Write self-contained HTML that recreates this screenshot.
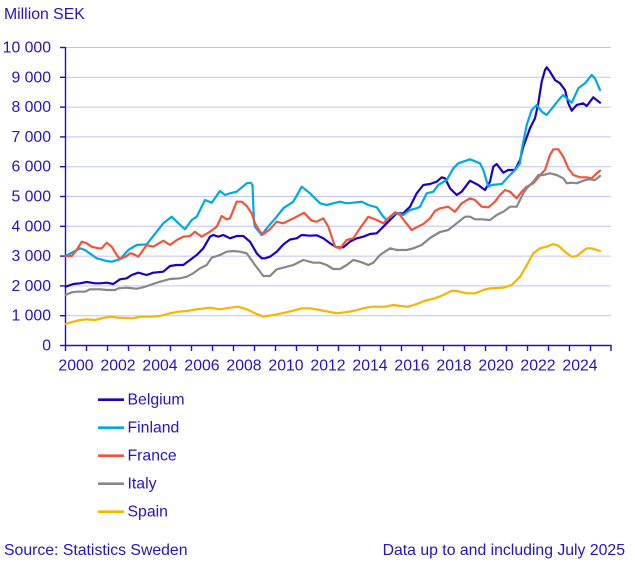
<!DOCTYPE html>
<html><head><meta charset="utf-8"><style>
html,body{margin:0;padding:0;background:#fff;}
svg{display:block;}
text{font-family:"Liberation Sans",Arial,sans-serif;fill:#2414c0;}
</style></head><body>
<svg width="635" height="562" viewBox="0 0 635 562" xmlns="http://www.w3.org/2000/svg">
<text x="4" y="19" font-size="15.8">Million SEK</text>
<g stroke="#c4c4f0" stroke-width="1">
<line x1="65.5" y1="47.5" x2="611" y2="47.5"/>
<line x1="65.5" y1="77.3" x2="611" y2="77.3"/>
<line x1="65.5" y1="107.1" x2="611" y2="107.1"/>
<line x1="65.5" y1="136.9" x2="611" y2="136.9"/>
<line x1="65.5" y1="166.7" x2="611" y2="166.7"/>
<line x1="65.5" y1="196.5" x2="611" y2="196.5"/>
<line x1="65.5" y1="226.3" x2="611" y2="226.3"/>
<line x1="65.5" y1="256.1" x2="611" y2="256.1"/>
<line x1="65.5" y1="285.9" x2="611" y2="285.9"/>
<line x1="65.5" y1="315.7" x2="611" y2="315.7"/>
</g>
<g font-size="15.8" text-anchor="end">
<text x="51" y="52.5">10 000</text>
<text x="51" y="82.3">9 000</text>
<text x="51" y="112.1">8 000</text>
<text x="51" y="141.9">7 000</text>
<text x="51" y="171.7">6 000</text>
<text x="51" y="201.5">5 000</text>
<text x="51" y="231.3">4 000</text>
<text x="51" y="261.1">3 000</text>
<text x="51" y="290.9">2 000</text>
<text x="51" y="320.7">1 000</text>
<text x="51" y="350.5">0</text>
</g>
<g stroke="#2010c0" stroke-width="1.4" fill="none">
<line x1="65.5" y1="47" x2="65.5" y2="351"/>
<line x1="65" y1="345.5" x2="611.5" y2="345.5"/>
<line x1="60" y1="47.5" x2="65.5" y2="47.5"/>
<line x1="60" y1="77.3" x2="65.5" y2="77.3"/>
<line x1="60" y1="107.1" x2="65.5" y2="107.1"/>
<line x1="60" y1="136.9" x2="65.5" y2="136.9"/>
<line x1="60" y1="166.7" x2="65.5" y2="166.7"/>
<line x1="60" y1="196.5" x2="65.5" y2="196.5"/>
<line x1="60" y1="226.3" x2="65.5" y2="226.3"/>
<line x1="60" y1="256.1" x2="65.5" y2="256.1"/>
<line x1="60" y1="285.9" x2="65.5" y2="285.9"/>
<line x1="60" y1="315.7" x2="65.5" y2="315.7"/>
<line x1="60" y1="345.5" x2="65.5" y2="345.5"/>
<path d="M86.5 345v6M107.5 345v6M128.5 345v6M149.5 345v6M170.5 345v6M191.5 345v6M212.5 345v6M233.5 345v6M254.5 345v6M275.5 345v6M296.5 345v6M317.5 345v6M338.5 345v6M359.5 345v6M380.5 345v6M401.5 345v6M422.5 345v6M443.5 345v6M464.5 345v6M485.5 345v6M506.5 345v6M527.5 345v6M548.5 345v6M569.5 345v6M590.5 345v6M611 345v6"/>
</g>
<g font-size="15.8" text-anchor="middle">
<text x="76" y="370.5">2000</text>
<text x="118" y="370.5">2002</text>
<text x="160" y="370.5">2004</text>
<text x="202" y="370.5">2006</text>
<text x="244" y="370.5">2008</text>
<text x="286" y="370.5">2010</text>
<text x="328" y="370.5">2012</text>
<text x="370" y="370.5">2014</text>
<text x="412" y="370.5">2016</text>
<text x="454" y="370.5">2018</text>
<text x="496" y="370.5">2020</text>
<text x="538" y="370.5">2022</text>
<text x="580" y="370.5">2024</text>
</g>
<g fill="none" stroke-width="2.2" stroke-linejoin="round" stroke-linecap="round">
<polyline stroke="#1e00be" points="65.7,286.7 73.3,284 80,283.3 86.7,282 95,283.3 100,283.3 106.7,282.7 113.3,284 120,279.3 126.7,278.3 131.7,275 138.3,272.7 146.7,275 153.3,272.7 163.3,271.7 170,266 176.7,265 183.3,265 190,260 196.7,255 203.3,248.3 210,236.7 213.3,235 218.3,236.7 223.3,235 230,238.3 236.7,236 243.3,236 250,241.7 256.7,253.3 261.7,258.3 265,258.3 270,256.7 276.7,251.7 283.3,244.5 290,239.5 296.7,238.3 301.7,235 310,235.7 316.7,235.3 323.3,238.3 330,243.3 336.7,247.3 343.3,247.3 350,241.7 356.7,238.3 363.3,236.7 370,234 376.7,233.3 383.3,226.7 390,220 396.7,213.3 403.3,213.3 410,206.7 416.7,193.3 423.3,185 430,184 436.7,181.7 441.7,177.3 445,178.3 450,188.3 456.7,195 461.7,191.7 470,180.7 478.3,185 485,190 490,181.7 493.3,166.7 496.7,164 503.3,172.7 508.3,170 515,170 520,160 523.3,146.7 530,128.3 535,118.3 538.3,103.3 541.7,81.7 545,70 546.7,67.3 550,71.7 555,80 560,83.3 565,90 568.3,103.3 571.7,110.7 576.7,105 583.3,103.3 586.7,106 593.3,97.3 600,102.7"/>
<polyline stroke="#00a8e6" points="65.7,256 80,248.3 85,250 96.7,258.3 106.7,261 111.7,261.7 120,259.3 128.3,250 136.7,245 146.7,244.3 156.7,231.7 163.3,223.3 171.7,216.7 176.7,221.7 185,229.3 191.7,220 196.7,216.7 205,200 211.7,202.7 220,191 225,195 230,193.3 236.7,191.7 246.7,183.3 250.7,182.7 252.5,185 254,222 255,226.7 261.7,235 266.7,228.3 276.7,216.7 283.3,208.3 293.3,201.7 301.7,186.7 310,193.3 320,203.3 326.7,205 333.3,203.3 340,201.7 346.7,203.3 353.3,202.7 361.7,201.7 368.3,205 376.7,207.3 383.3,216.7 386.7,220 391.7,216 396.7,212.7 403.3,215 410,210 416.7,208.3 420,206.7 426.7,193.3 433.3,191.7 438.3,185 446.7,180 453.3,168.3 458.3,163.3 470,159.3 480,163.3 483.3,170 488.3,186.7 491.7,185 501.7,184 508.3,176.7 515,170 520,163.3 521.7,150 526.7,125 531.7,110 536.7,105 541.7,111.7 546.7,115 553.3,106.7 560,98.3 563.3,95 566.7,98.3 571.7,102.7 578.3,88.3 585,83.3 591.7,75 595,78.3 600,90"/>
<polyline stroke="#f0553c" points="65.7,256 71.7,256 76.7,250 81.7,241.7 86.7,243.3 91.7,246.7 98.3,248.3 101.7,248.3 106.7,242.7 111.7,246.7 116.7,255 120,259 126.7,256 130,253.3 133.3,254 138.3,256.7 146.7,245 153.3,246.7 163.3,240.7 170,245 176.7,240 183.3,236.7 190,236 195,231.7 201.7,236.7 210,231.7 216.7,226.7 221.7,216 226.7,219.3 230,218.3 236.7,201.7 241.7,201.7 246.7,206 251.7,213.3 255,223.3 260,231.7 263.3,234.3 270,229.3 276.7,221.7 283.3,223.3 290,220 296.7,216.7 304,212.7 311.7,220.7 316.7,221.7 323.3,218.3 328.3,226.7 335,246.7 340,248.3 346.7,240 353.3,238.3 360,228.3 368.3,216.7 376.7,220 383.3,223.3 390,216.7 395,212.3 400,215 405,221.7 411.7,230 416.7,227.3 423.3,224 430,218.3 435,211 440,208.3 448.3,206.7 455,211.7 461.7,203.3 470,198.3 475,200 481.7,206.7 488.3,207.3 495,201.7 500,195 505,190 510,191.7 516.7,198.3 521.7,191.7 526.7,186.7 533.3,183.3 541.7,173.3 545,170 550,155 553.3,149.3 558.3,149.3 563.3,156.7 568.3,168.3 573.3,175 580,177.3 586.7,177.3 591.7,178.3 596.7,173.3 600,170.7"/>
<polyline stroke="#878787" points="65.7,295 71.7,292.3 76.7,291.7 85,291.7 90,289.3 100,289.3 106.7,290 115,290 118.3,288.3 126.7,287.7 136.7,288.7 143.3,287.3 150,285 160,281.7 170,279 180,278.3 186.7,276.7 193.3,273.3 200,268.3 206.7,265 211.7,257.7 220,255 226.7,251.7 233.3,251 240,251.7 246.7,253.3 255,265 263.3,276 270,276 276.7,269.3 283.3,267.7 293.3,265 303.3,260 313.3,262.7 320,262.7 326.7,265 333.3,269 340,269 346.7,265 353.3,260 360,261.7 368.3,265 373.3,262.7 380,255 390,248.3 396.7,250 406.7,250 413.3,248.3 421.7,245 430,238 440,232 448.3,230 456.7,223.3 465,216.7 470,216.7 475,219.3 481.7,219.3 490,220 496.7,215 503.3,211.7 510,206.7 516.7,206.7 523.3,193.3 526.7,188.3 533.3,181.7 538.3,175 543.3,175 550,173.3 556.7,175 563.3,178.3 566.7,183.3 571.7,182.7 576.7,183.3 583.3,180.7 588.3,179.3 595,180 600,176"/>
<polyline stroke="#fab400" points="65.7,324 73.3,321.7 80,320 86.7,319.3 95,320 101.7,318.3 110,316.7 118.3,317.7 133.3,318.3 140,316.7 150,316.7 160,316 170,313.3 178.3,311.7 186.7,311 196.7,309.3 210,307.7 220,309.3 230,307.7 238.3,306.7 246.7,309.3 255,313.3 263.3,316.7 273.3,315 281.7,313.3 293.3,310.7 301.7,308.3 310,308.3 320,310 328.3,311.7 336.7,313.3 345,312.3 353.3,311 363.3,308.3 371.7,306.7 385,306.7 393.3,305 400,306 408.3,306.7 416.7,304 425,300.7 435,298.3 443.3,295 451.7,290.7 456.7,291 466.7,293.3 475,293.3 483.3,290 490,288.3 503.3,287.7 511.7,285 520,276.7 525,268.3 533.3,253.3 540,248.3 546.7,246.7 553.3,244 558.3,245.7 565,251.7 571.7,256.7 576.7,256 586.7,248.3 591.7,248.3 600,251"/>
</g>
<g stroke-width="2.6">
<line x1="98" y1="399.7" x2="124" y2="399.7" stroke="#1e00be"/>
<line x1="98" y1="427.7" x2="124" y2="427.7" stroke="#00a8e6"/>
<line x1="98" y1="455.7" x2="124" y2="455.7" stroke="#f0553c"/>
<line x1="98" y1="483.7" x2="124" y2="483.7" stroke="#878787"/>
<line x1="98" y1="511.7" x2="124" y2="511.7" stroke="#fab400"/>
</g>
<g font-size="15.8">
<text x="127.5" y="404.5">Belgium</text>
<text x="127.5" y="432.5">Finland</text>
<text x="127.5" y="460.5">France</text>
<text x="127.5" y="488.5">Italy</text>
<text x="127.5" y="516.5">Spain</text>
<text x="4" y="555">Source: Statistics Sweden</text>
<text x="625" y="555" text-anchor="end">Data up to and including July 2025</text>
</g>
</svg>
</body></html>
